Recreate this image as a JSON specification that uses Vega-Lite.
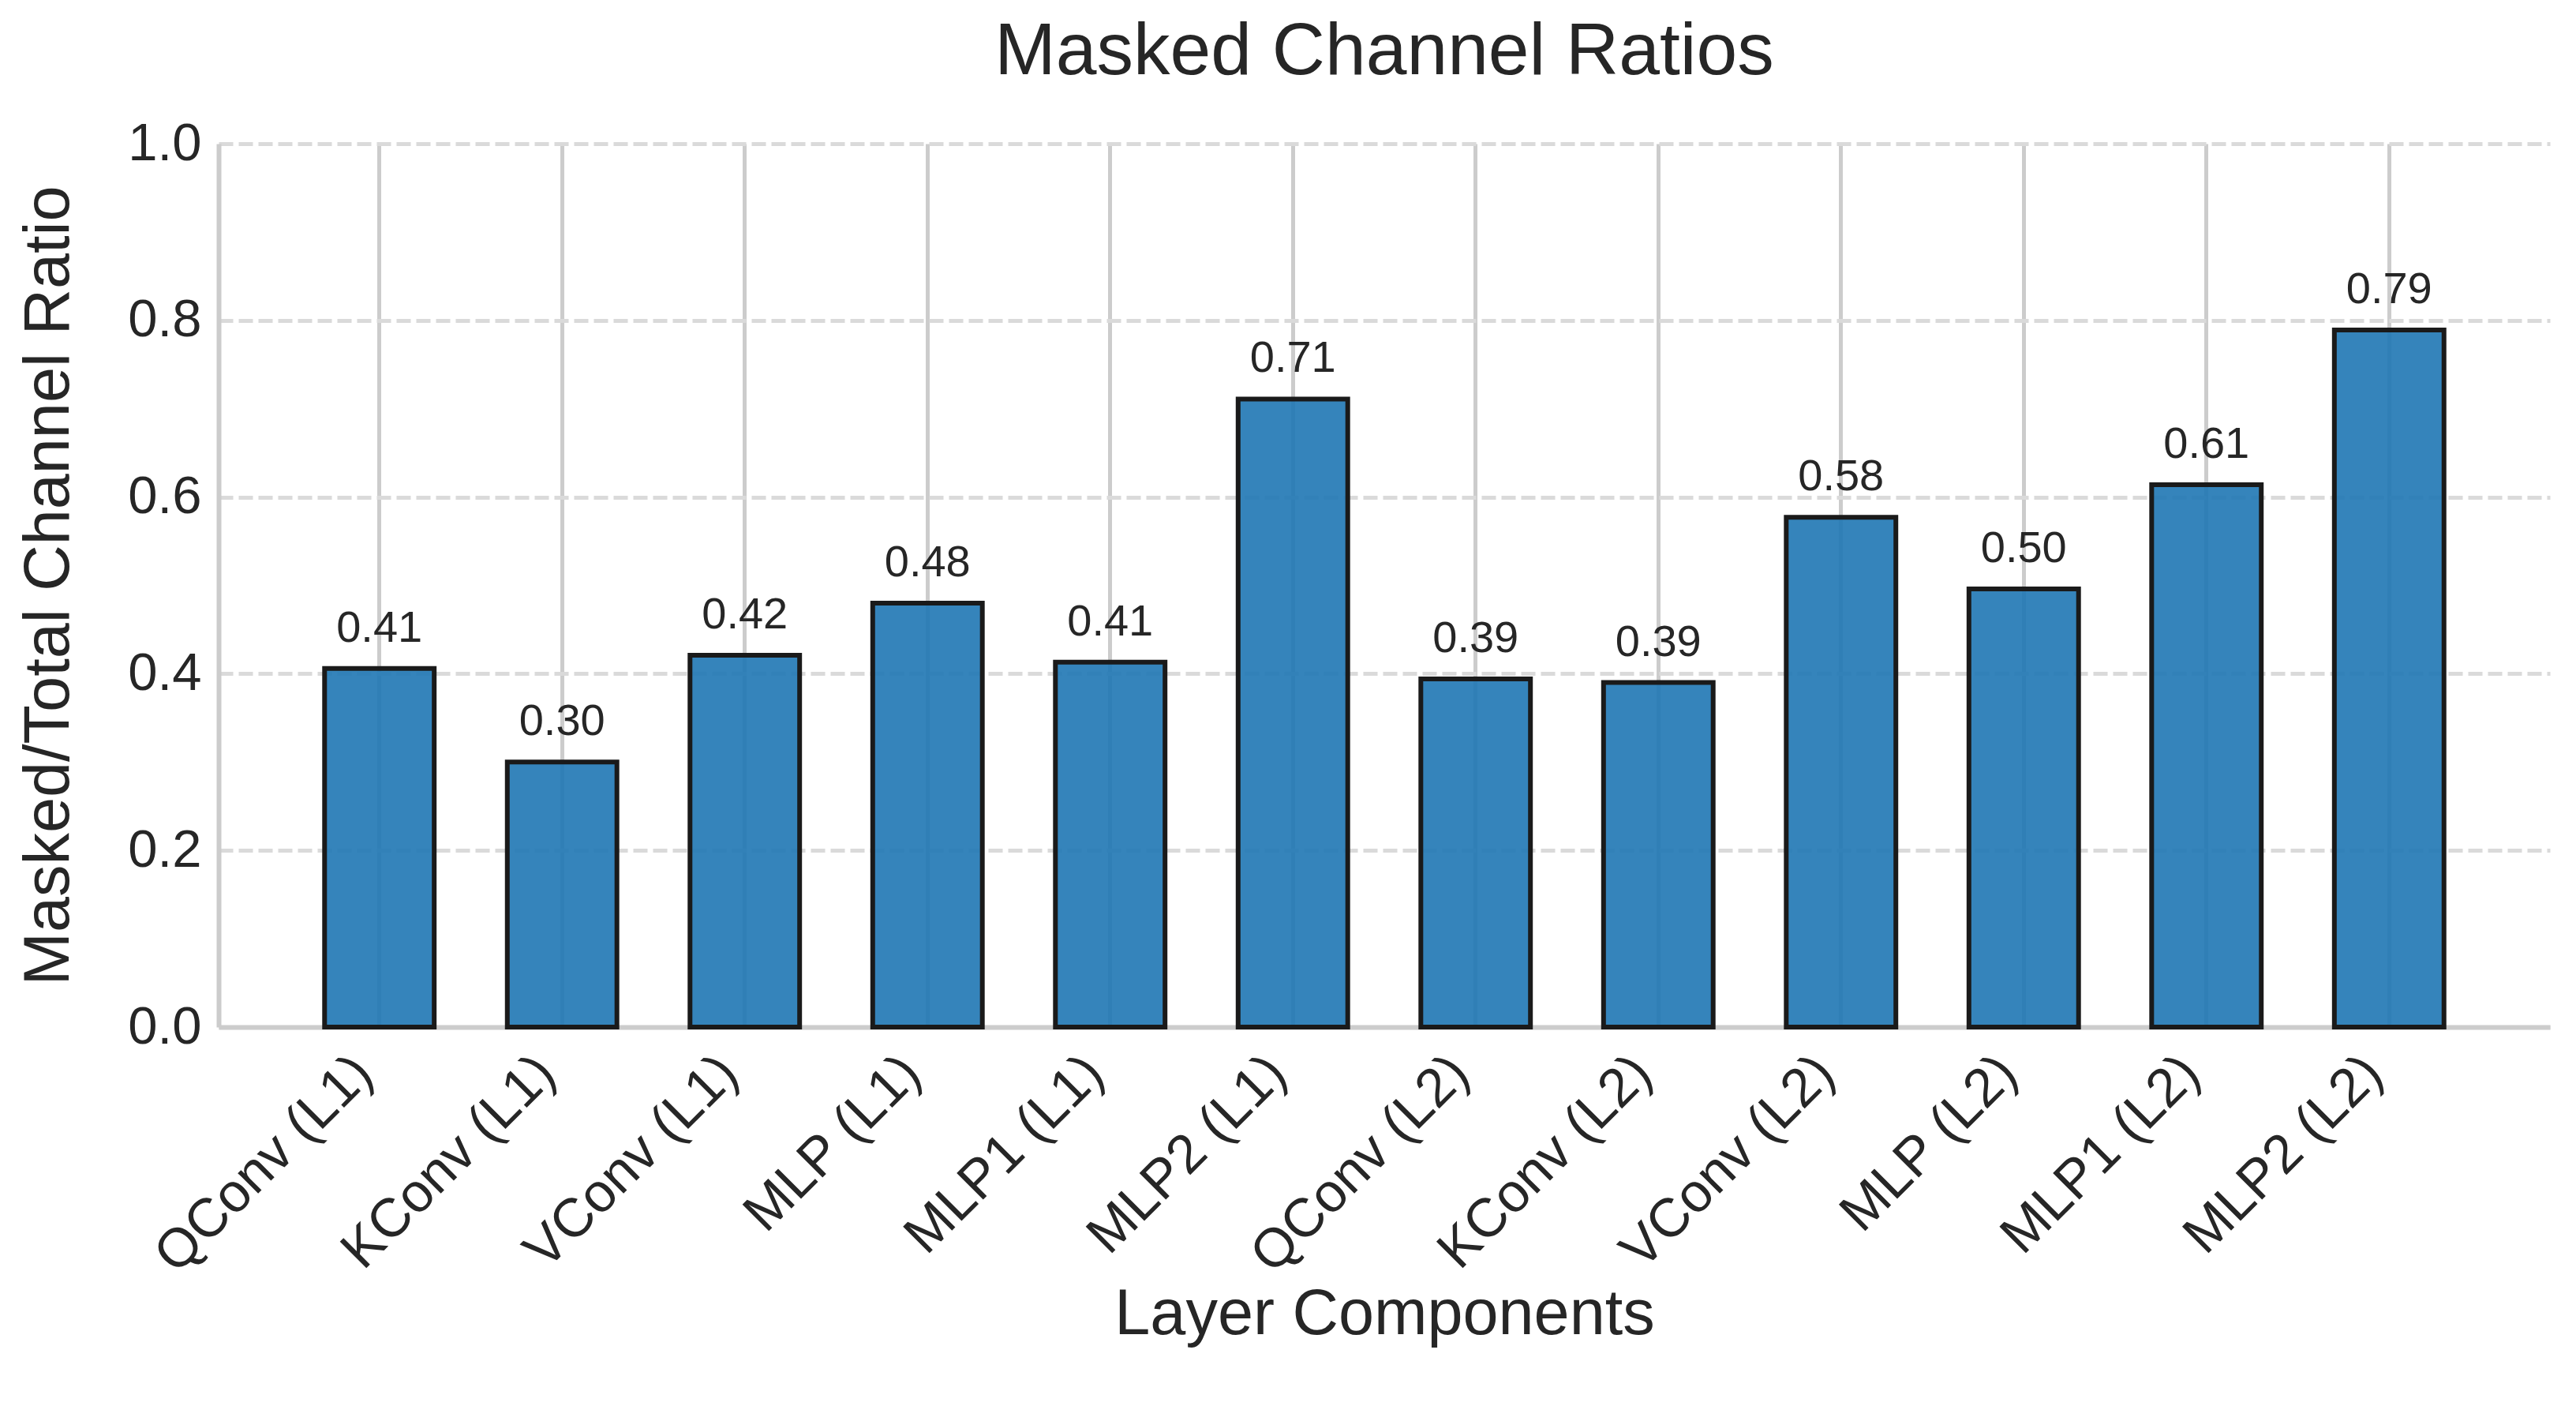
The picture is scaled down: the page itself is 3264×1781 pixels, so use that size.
{
  "$schema": "https://vega.github.io/schema/vega-lite/v6.json",
  "autosize": {"type": "none"},
  "width": 2954,
  "height": 1119,
  "padding": {"left": 277, "top": 182, "right": 33, "bottom": 480},
  "background": "white",
  "title": {"text": "Masked Channel Ratios", "fontSize": 93, "font": "Liberation Sans", "fontWeight": "normal", "color": "#262626", "anchor": "middle", "baseline": "alphabetic", "frame": "group", "offset": -39},
  "config": {"view": {"stroke": null}, "font": "Liberation Sans"},
  "data": {"values": [
    {"layer": "QConv (L1)", "ratio": 0.406},
    {"layer": "KConv (L1)", "ratio": 0.300},
    {"layer": "VConv (L1)", "ratio": 0.421},
    {"layer": "MLP (L1)", "ratio": 0.480},
    {"layer": "MLP1 (L1)", "ratio": 0.413},
    {"layer": "MLP2 (L1)", "ratio": 0.711},
    {"layer": "QConv (L2)", "ratio": 0.394},
    {"layer": "KConv (L2)", "ratio": 0.390},
    {"layer": "VConv (L2)", "ratio": 0.577},
    {"layer": "MLP (L2)", "ratio": 0.496},
    {"layer": "MLP1 (L2)", "ratio": 0.614},
    {"layer": "MLP2 (L2)", "ratio": 0.789}
  ]},
  "encoding": {
    "x": {
      "field": "layer", "type": "nominal", "sort": null,
      "scale": {"paddingInner": 0.4, "paddingOuter": 0.58},
      "axis": {
        "title": "Layer Components", "titleFontSize": 81, "titleFontWeight": "normal", "titleColor": "#262626", "titlePadding": 124,
        "labelAngle": -45, "labelAlign": "right", "labelBaseline": "top", "labelFontSize": 69, "labelColor": "#262626",
        "labelPadding": 23, "labelOffset": -44, "labelLimit": 2000, "ticks": false,
        "grid": true, "gridColor": "#cccccc", "gridWidth": 5,
        "domainColor": "#cccccc", "domainWidth": 6
      }
    }
  },
  "layer": [
    {
      "mark": {"type": "bar", "fill": "#1f77b4", "fillOpacity": 0.9, "stroke": "#1a1a1a", "strokeWidth": 6},
      "encoding": {
        "y": {
          "field": "ratio", "type": "quantitative", "scale": {"domain": [0, 1]},
          "axis": {
            "title": "Masked/Total Channel Ratio", "titleFontSize": 81, "titleFontWeight": "normal", "titleColor": "#262626", "titlePadding": 58,
            "labelFontSize": 67, "labelColor": "#262626", "labelPadding": 22, "ticks": false,
            "values": [0, 0.2, 0.4, 0.6, 0.8, 1.0], "format": ".1f",
            "grid": true, "gridDash": [18, 7], "gridColor": "#dadada", "gridWidth": 5,
            "domainColor": "#cccccc", "domainWidth": 6
          }
        }
      }
    },
    {
      "mark": {"type": "text", "dy": -34, "baseline": "alphabetic", "align": "center", "fontSize": 56, "color": "#262626"},
      "encoding": {
        "y": {"field": "ratio", "type": "quantitative"},
        "text": {"field": "ratio", "type": "quantitative", "format": ".2f"}
      }
    }
  ]
}
